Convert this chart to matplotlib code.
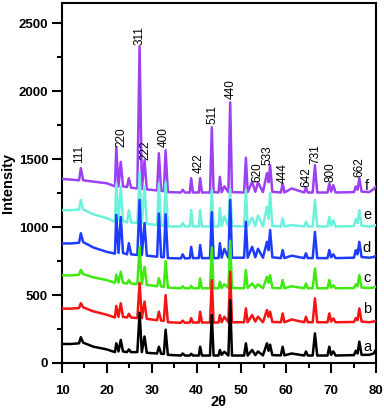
import matplotlib
matplotlib.use("Agg")
import matplotlib.pyplot as plt
from matplotlib.ticker import MultipleLocator

plt.rcParams['font.family'] = ['Liberation Sans', 'DejaVu Sans']

# Shared 2-theta sampling points (baseline points and peak tops)
two_theta = [10.0, 12.0, 13.8, 14.2, 14.7, 17.0, 20.0, 21.8, 22.1, 22.6,
             23.1, 23.6, 24.5, 24.9, 25.4, 26.8, 27.3, 27.8, 28.4, 28.9,
             31.2, 31.6, 32.1, 32.7, 33.1, 33.6, 36.5, 36.9, 37.4, 38.5,
             38.8, 39.2, 40.5, 40.8, 41.2, 43.0, 43.4, 43.8, 44.9, 45.2,
             45.6, 46.2, 47.1, 47.5, 47.9, 50.6, 51.0, 51.4, 52.4, 53.1,
             53.7, 54.8, 55.7, 56.05, 56.4, 56.9, 58.8, 59.2, 59.6, 61.2,
             64.0, 64.4, 64.8, 65.9, 66.4, 66.9, 69.2, 69.6, 70.0, 70.5,
             71.0, 75.1, 75.5, 75.9, 76.3, 76.8, 78.5, 79.5, 80.0]

int_a = [140, 140, 145, 190, 150, 120, 100, 80, 145, 85,
         170, 85, 80, 100, 80, 80, 370, 80, 195, 75,
         70, 120, 68, 66, 245, 60, 55, 70, 55, 55,
         68, 55, 55, 120, 55, 55, 353, 55, 55, 96,
         60, 83, 55, 463, 55, 55, 145, 55, 96, 58,
         85, 56, 145, 90, 135, 58, 56, 120, 56, 70,
         55, 85, 55, 55, 218, 55, 55, 120, 60, 85,
         55, 58, 90, 70, 157, 60, 60, 70, 100]

int_b = [400, 400, 405, 440, 410, 380, 355, 335, 420, 340,
         440, 340, 335, 362, 335, 330, 590, 330, 452, 325,
         315, 378, 312, 310, 500, 300, 296, 312, 296, 298,
         330, 298, 298, 377, 298, 298, 610, 298, 298, 353,
         300, 340, 300, 671, 300, 300, 402, 300, 353, 305,
         341, 300, 390, 340, 377, 302, 300, 365, 300, 320,
         300, 341, 300, 300, 476, 300, 300, 365, 305, 328,
         300, 302, 330, 315, 402, 305, 300, 305, 312]

int_c = [645, 645, 650, 685, 655, 630, 610, 590, 650, 592,
         672, 590, 585, 610, 585, 580, 855, 580, 708, 575,
         565, 625, 563, 560, 750, 555, 550, 565, 550, 550,
         568, 550, 550, 623, 550, 550, 850, 550, 550, 598,
         552, 580, 552, 900, 552, 550, 684, 552, 586, 552,
         580, 550, 635, 590, 647, 552, 550, 610, 550, 565,
         550, 586, 550, 550, 696, 550, 550, 610, 555, 572,
         550, 552, 580, 565, 647, 555, 552, 556, 562]

int_d = [880, 880, 885, 955, 890, 850, 818, 805, 1090, 810,
         1075, 810, 800, 882, 800, 795, 1200, 795, 1030, 790,
         782, 1100, 780, 778, 1095, 772, 770, 800, 770, 772,
         855, 772, 772, 868, 772, 772, 1110, 772, 772, 882,
         775, 840, 775, 1200, 775, 775, 1039, 775, 855, 778,
         841, 775, 892, 830, 978, 778, 772, 831, 772, 790,
         772, 808, 772, 772, 965, 772, 772, 831, 778, 800,
         772, 775, 830, 800, 892, 780, 775, 780, 790]

int_e = [1125, 1125, 1130, 1200, 1130, 1095, 1066, 1040, 1320, 1045,
         1300, 1045, 1035, 1125, 1035, 1030, 1400, 1030, 1300, 1025,
         1015, 1320, 1012, 1010, 1330, 1005, 1005, 1030, 1005, 1005,
         1125, 1005, 1005, 1125, 1005, 1005, 1270, 1005, 1005, 1140,
         1008, 1080, 1008, 1280, 1008, 1005, 1272, 1008, 1070, 1008,
         1085, 1005, 1150, 1060, 1250, 1008, 1005, 1064, 1005, 1015,
         1005, 1039, 1005, 1005, 1199, 1005, 1005, 1076, 1010, 1050,
         1005, 1008, 1060, 1030, 1125, 1010, 1005, 1010, 1015]

int_f = [1355, 1350, 1345, 1434, 1345, 1335, 1323, 1300, 1590, 1300,
         1480, 1300, 1295, 1360, 1290, 1285, 2330, 1280, 1493, 1278,
         1270, 1544, 1268, 1265, 1566, 1258, 1255, 1275, 1255, 1255,
         1360, 1255, 1255, 1360, 1255, 1255, 1735, 1258, 1255, 1370,
         1258, 1300, 1258, 1919, 1258, 1255, 1510, 1258, 1333, 1260,
         1330, 1258, 1397, 1330, 1456, 1260, 1255, 1321, 1255, 1285,
         1255, 1291, 1255, 1255, 1456, 1255, 1255, 1321, 1262, 1309,
         1255, 1258, 1300, 1275, 1360, 1262, 1258, 1280, 1300]

sample_names = ['a', 'b', 'c', 'd', 'e', 'f']
sample_colors = ['#000000', '#F51414', '#40EA10', '#1E3CFF', '#6CF2DC', '#9B40F2']
sample_label_y = [120, 395, 625, 845, 1090, 1300]

hkl_labels = ['111', '220', '311', '222', '400', '422', '511', '440',
              '620', '533', '444', '642', '731', '800', '662']
hkl_x = [13.8, 23.3, 27.2, 28.65, 32.6, 40.5, 43.6, 47.7,
         53.5, 55.9, 59.2, 64.4, 66.5, 69.8, 76.3]
hkl_y = [1470, 1590, 2338, 1493, 1590, 1395, 1762, 1946,
         1333, 1456, 1323, 1297, 1468, 1333, 1370]

series = [int_a, int_b, int_c, int_d, int_e, int_f]

fig = plt.figure(figsize=(3.84, 4.11), dpi=100)
ax = fig.add_axes([0.1615, 0.1168, 0.8175, 0.8759])

for i, (ys, col) in enumerate(zip(series, sample_colors)):
    ax.plot(two_theta, ys, color=col, lw=1.8, zorder=10 - i,
            solid_joinstyle='round')

for name, yv, col in zip(sample_names, sample_label_y, sample_colors):
    ax.text(78.0, yv, name, fontsize=10.5, ha='center', va='center',
            color='black', zorder=20)

for lab, xv, yv in zip(hkl_labels, hkl_x, hkl_y):
    ax.text(xv, yv, lab, rotation=90, fontsize=8.5, ha='center', va='bottom',
            zorder=20)

ax.set_xlim(10, 80)
ax.set_ylim(0, 2650)
ax.xaxis.set_major_locator(MultipleLocator(10))
ax.xaxis.set_minor_locator(MultipleLocator(5))
ax.yaxis.set_major_locator(MultipleLocator(500))
ax.yaxis.set_minor_locator(MultipleLocator(250))

ax.tick_params(axis='both', which='major', direction='out', length=7, width=1.5,
               labelsize=9.5)
ax.tick_params(axis='both', which='minor', direction='out', length=3.6, width=1.5)
ax.tick_params(axis='x', which='major', pad=9)
ax.tick_params(axis='y', which='major', pad=3)
for lab in ax.get_xticklabels() + ax.get_yticklabels():
    lab.set_fontweight('bold')
for sp in ax.spines.values():
    sp.set_linewidth(1.5)

ax.set_xlabel('2θ', fontsize=10.5, fontweight='bold')
ax.xaxis.set_label_coords(0.5, -0.09)
ax.set_ylabel('Intensity', fontsize=10.5, fontweight='bold')
ax.yaxis.set_label_coords(-0.15, 0.5)

fig.savefig('out.png', dpi=100)
